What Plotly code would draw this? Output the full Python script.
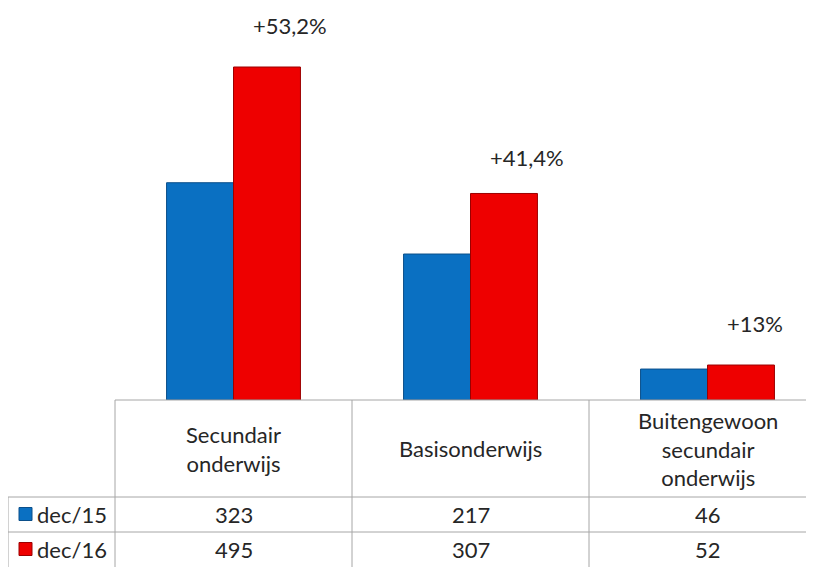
"""
Excel-style clustered bar chart with a data table underneath.
"""

import plotly.graph_objects as go

# Data
categories = ["Secundair<br>onderwijs", "Basisonderwijs", "Buitengewoon<br>secundair<br>onderwijs"]
series_names = ["dec/15", "dec/16"]
values_dec15 = [323, 217, 46]
values_dec16 = [495, 307, 52]
growth_labels = ["+53,2%", "+41,4%", "+13%"]

# Styles
COLORS = ["#0a70c2", "#ee0000"]
EDGE_COLORS = ["#0b4f8a", "#9c0000"]
GRID = "#a6a6a6"
TEXT = "#262626"
FONT = "Lato"
FONT_SIZE = 22

# The page body adds an 8px margin, so lay out in screen pixels minus that offset
OFFSET = 8
WIDTH, HEIGHT = 814 - OFFSET, 567 - OFFSET
BASELINE = 400  # screen y of the bar baseline
M_LEFT = 115 - OFFSET
M_TOP = 0
PLOT_H = BASELINE - OFFSET
M_BOTTOM = HEIGHT - PLOT_H
PLOT_W = WIDTH - M_LEFT
CAT_PX = 237  # pixel width of one category column
PX_PER_UNIT = 0.6727
X_RANGE = [-0.5, -0.5 + PLOT_W / CAT_PX]
Y_RANGE = [0, PLOT_H / PX_PER_UNIT]


def px_x(sx):
    """Screen pixel x -> paper x"""
    return (sx - OFFSET - M_LEFT) / PLOT_W


def px_y(sy):
    """Screen pixel y -> paper y"""
    return (M_TOP + PLOT_H - (sy - OFFSET)) / PLOT_H


def cat_x(c):
    """Category coordinate -> paper x"""
    return (c - X_RANGE[0]) / (X_RANGE[1] - X_RANGE[0])


fig = go.Figure()

x_idx = list(range(len(categories)))
for name, vals, col, edge in zip(series_names, [values_dec15, values_dec16], COLORS, EDGE_COLORS):
    fig.add_trace(
        go.Bar(
            x=x_idx,
            y=vals,
            name=name,
            marker=dict(color=col, line=dict(color=edge, width=1)),
            showlegend=False,
        )
    )

annotations = []

# Growth labels above the red bars
for i, (lbl, v) in enumerate(zip(growth_labels, values_dec16)):
    annotations.append(
        dict(
            x=i, y=v, xref="x", yref="y", text=lbl, showarrow=False,
            xanchor="left", yanchor="middle", xshift=17, yshift=[42, 36, 42][i],
            font=dict(family=FONT, size=FONT_SIZE, color=TEXT),
        )
    )

# Table rows (screen pixel positions)
row_top, header_bottom, row1_bottom, row2_bottom = 400, 497, 532, 567
table_left = 8

for i, cat in enumerate(categories):
    annotations.append(
        dict(
            x=i, y=px_y((row_top + header_bottom) / 2), xref="x", yref="paper",
            text=cat, showarrow=False, xanchor="center", yanchor="middle",
            font=dict(family=FONT, size=FONT_SIZE, color=TEXT),
        )
    )
    for vals, (top, bot) in zip(
        [values_dec15, values_dec16], [(header_bottom, row1_bottom), (row1_bottom, row2_bottom)]
    ):
        annotations.append(
            dict(
                x=i, y=px_y((top + bot) / 2), xref="x", yref="paper",
                text=str(vals[i]), showarrow=False, xanchor="center", yanchor="middle",
                font=dict(family=FONT, size=FONT_SIZE, color=TEXT),
            )
        )

shapes = []
line = dict(color=GRID, width=1)

# Horizontal table lines
for sy in [header_bottom, row1_bottom]:
    shapes.append(dict(type="line", xref="paper", yref="paper",
                       x0=px_x(table_left), x1=1, y0=px_y(sy), y1=px_y(sy), line=line))
shapes.append(dict(type="line", xref="paper", yref="paper",
                   x0=0, x1=1, y0=px_y(row_top), y1=px_y(row_top), line=line))

# Vertical table lines at category boundaries
for b in [-0.5, 0.5, 1.5]:
    shapes.append(dict(type="line", xref="paper", yref="paper",
                       x0=cat_x(b), x1=cat_x(b), y0=px_y(row_top), y1=px_y(row2_bottom), line=line))
shapes.append(dict(type="line", xref="paper", yref="paper",
                   x0=px_x(table_left), x1=px_x(table_left),
                   y0=px_y(header_bottom), y1=px_y(row2_bottom), line=line))

# Legend keys and series names in the table
for name, col, edge, (top, bot) in zip(
    series_names, COLORS, EDGE_COLORS, [(header_bottom, row1_bottom), (row1_bottom, row2_bottom)]
):
    mid = (top + bot) / 2
    shapes.append(dict(type="rect", xref="paper", yref="paper",
                       x0=px_x(19), x1=px_x(32), y0=px_y(mid + 6), y1=px_y(mid - 7),
                       fillcolor=col, line=dict(color=edge, width=1)))
    annotations.append(
        dict(
            x=px_x(35), y=px_y(mid), xref="paper", yref="paper", text=name, showarrow=False,
            xanchor="left", yanchor="middle", font=dict(family=FONT, size=FONT_SIZE, color=TEXT),
        )
    )

fig.update_layout(
    width=WIDTH,
    height=HEIGHT,
    margin=dict(l=M_LEFT, r=0, t=M_TOP, b=M_BOTTOM, pad=0),
    paper_bgcolor="white",
    plot_bgcolor="white",
    barmode="group",
    bargap=0.435,
    bargroupgap=0,
    xaxis=dict(range=X_RANGE, showticklabels=False, showgrid=False, zeroline=False,
               showline=False, ticks=""),
    yaxis=dict(range=Y_RANGE, showticklabels=False, showgrid=False, zeroline=False,
               showline=False, ticks=""),
    annotations=annotations,
    shapes=shapes,
)

fig.write_html("out.html")
